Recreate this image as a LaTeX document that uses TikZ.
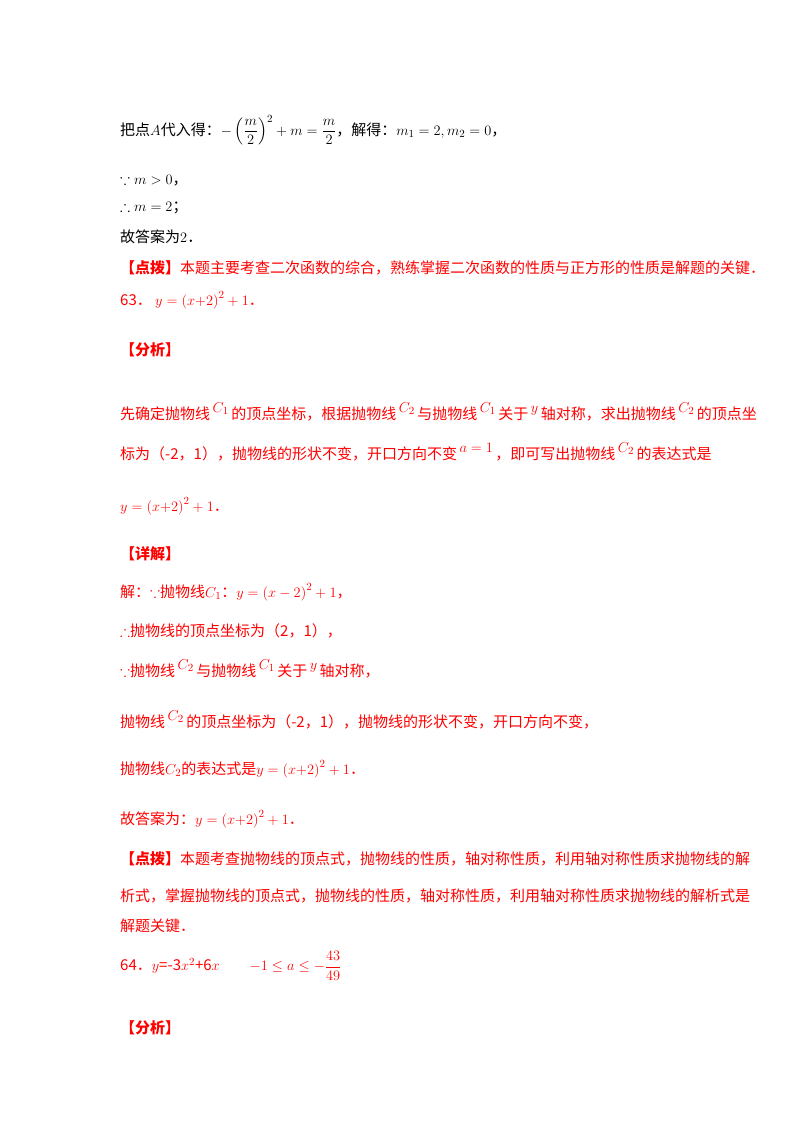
\documentclass[tikz,border=0pt]{standalone}
\usepackage{fontspec}
\usepackage{amsmath,amssymb}
\newfontfamily\cjk{Noto Sans CJK SC}
\definecolor{rd}{RGB}{255,0,0}
\newcommand{\up}[1]{\raisebox{7pt}{$#1$}}
\begin{document}
\begin{tikzpicture}[x=1pt,y=-1pt,
 ln/.style={anchor=west,inner sep=0pt,font=\fontsize{15}{18}\selectfont\cjk},
 rl/.style={ln,text=rd}]
\useasboundingbox (0,0) rectangle (800,1132);
\node[ln] (l1) at (120,130) {把点$A$代入得：$-\left(\dfrac{m}{2}\right)^{2}+m=\dfrac{m}{2}$，解得：$m_1=2,m_2=0$，};
\node[ln] (l2) at (120,180) {$\because m>0$，};
\node[ln] (l3) at (120,208) {$\therefore m=2$；};
\node[ln] (l4) at (120,237) {故答案为$2$．};
\node[rl] (l5) at (120,268) {\textbf{【点拨】}本题主要考查二次函数的综合，熟练掌握二次函数的性质与正方形的性质是解题的关键．};
\node[rl] (l6) at (120,300) {63．\ $y=\left(x{+}2\right)^{2}+1$．};
\node[rl] (l7) at (120,350) {\textbf{【分析】}};
\node[rl] (l8) at (120,412) {先确定抛物线\,\up{C_1}\,的顶点坐标，根据抛物线\,\up{C_2}\,与抛物线\,\up{C_1}\,关于\,\up{y}\,轴对称，求出抛物线\,\up{C_2}\,的顶点坐};
\node[rl] (l9) at (120,452) {标为（-2，1），抛物线的形状不变，开口方向不变\,\up{a=1}\,，即可写出抛物线\,\up{C_2}\,的表达式是};
\node[rl] (l10) at (120,506) {$y=\left(x{+}2\right)^{2}+1$．};
\node[rl] (l11) at (120,554) {\textbf{【详解】}};
\node[rl] (l12) at (120,592) {解：$\because$抛物线$C_1$：$y=\left(x-2\right)^{2}+1$，};
\node[rl] (l13) at (120,631) {$\therefore$抛物线的顶点坐标为（2，1），};
\node[rl] (l14) at (120,669) {$\because$抛物线\,\up{C_2}\,与抛物线\,\up{C_1}\,关于\,\up{y}\,轴对称，};
\node[rl] (l15) at (120,720) {抛物线\,\up{C_2}\,的顶点坐标为（-2，1），抛物线的形状不变，开口方向不变，};
\node[rl] (l16) at (120,769) {抛物线$C_2$的表达式是$y=\left(x{+}2\right)^{2}+1$．};
\node[rl] (l17) at (120,819) {故答案为：$y=\left(x{+}2\right)^{2}+1$．};
\node[rl] (l18) at (120,859) {\textbf{【点拨】}本题考查抛物线的顶点式，抛物线的性质，轴对称性质，利用轴对称性质求抛物线的解};
\node[rl] (l19) at (120,896) {析式，掌握抛物线的顶点式，抛物线的性质，轴对称性质，利用轴对称性质求抛物线的解析式是};
\node[rl] (l20) at (120,926) {解题关键．};
\node[rl] (l21) at (120,966) {64．$y$=-3$x^{2}$+6$x$\qquad $-1\le a\le-\dfrac{43}{49}$};
\node[rl] (l22) at (120,1028) {\textbf{【分析】}};
\end{tikzpicture}
\end{document}
